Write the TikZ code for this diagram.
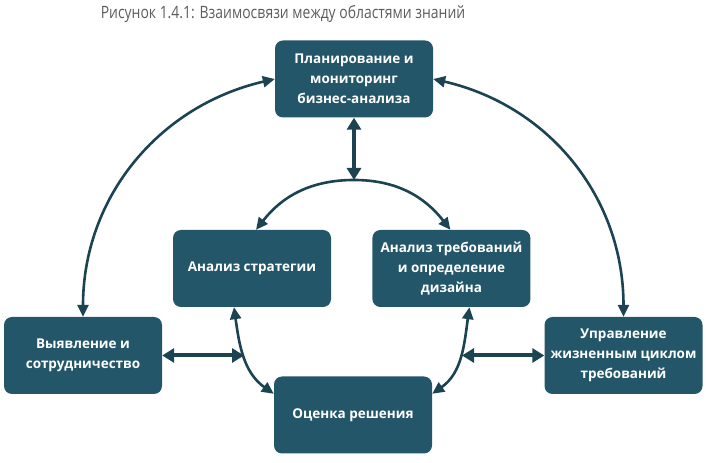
\documentclass[tikz,border=0pt]{standalone}
\usepackage{fontspec}
\setmainfont{Open Sans}
\newfontfamily\capfont[FakeStretch=0.82]{Open Sans}
\usetikzlibrary{arrows.meta,positioning}
\definecolor{boxteal}{HTML}{245669}
\definecolor{arrowink}{HTML}{1B4352}
\definecolor{captiongray}{HTML}{5C5C5C}

\begin{document}
\begin{tikzpicture}[
                x=1pt, y=1pt,
                font=\bfseries\fontsize{13.5}{20}\selectfont,
                area/.style={rectangle, fill=boxteal, text=white, rounded corners=8pt, minimum width=158pt, minimum height=77pt, align=center, inner sep=3pt},
                arc/.style={{Triangle[length=12pt,width=11pt]}-{Triangle[length=12pt,width=11pt]}, line width=2.6pt, draw=arrowink},
                link/.style={{Triangle[length=12pt,width=14pt]}-{Triangle[length=12pt,width=14pt]}, line width=4pt, draw=arrowink},
            ]
            \useasboundingbox (0,0) rectangle (710,463);
            \node[font=\capfont\fontsize{17}{19}\selectfont, text=captiongray] (cap) at (283,449) {Рисунок 1.4.1: Взаимосвязи между областями знаний};

            \node[area] (plan) at (354,384) {Планирование и\\мониторинг\\бизнес-анализа};
            \node[area] (strat) at (252,194.5) {Анализ стратегии};
            \node[area, right=41pt of strat] (reqs) {Анализ требований\\и определение\\дизайна};
            \node[area] (elicit) at (83,107.5) {Выявление и\\сотрудничество};
            \node[area] (rlcm) at (623.5,107.5) {Управление\\жизненным циклом\\требований};
            \node[area] (evalsol) at (353,48) {Оценка решения};

            \coordinate (hub) at (354,283);
            \coordinate (lmeet) at (244,107.5);
            \coordinate (rmeet) at (462,107.5);

            \draw[arc] (plan.west) to[out=193,in=90] (elicit.north);
            \draw[arc] (plan.east) to[out=-13,in=90] (rlcm.north);
            \draw[link] (plan.south) -- (hub);
            \draw[arc] ([xshift=4pt]strat.north) to[out=52,in=180] (hub) to[out=0,in=128] ([xshift=-1pt]reqs.north);
            \draw[arc] (strat.245) to[out=-82,in=145] (evalsol.165);
            \draw[arc] (reqs.295) to[out=-98,in=35] (evalsol.15);
            \draw[link] (elicit.east) -- (lmeet);
            \draw[link] (rmeet) -- (rlcm.west);
        \end{tikzpicture}
\end{document}
